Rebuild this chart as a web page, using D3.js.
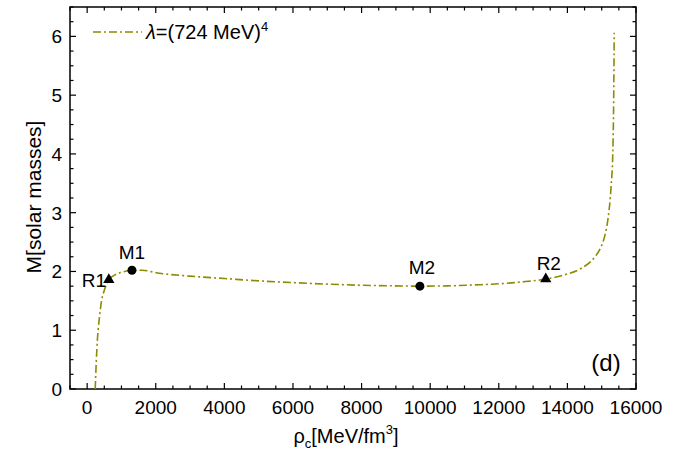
<!DOCTYPE html>
<html><head><meta charset="utf-8">
<script src="https://cdn.jsdelivr.net/npm/d3@7"></script>
<style>body{margin:0;background:#fff}svg{display:block}text{font-family:"Liberation Sans",Arial,sans-serif;fill:#000}</style>
</head><body>
<script>
// Data
const rho = [235, 265, 300, 320, 370, 420, 500, 583, 632, 750, 925, 1100, 1306, 1600, 2100, 3000, 4000, 5000, 6000, 7000, 8000, 9000, 9700, 10500, 11464, 12000, 12635, 13370, 13900, 14395, 14776, 14981, 15100, 15177, 15273, 15323, 15352, 15365];
const mass = [0, 0.45, 0.85, 1.0, 1.28, 1.5, 1.68, 1.80, 1.86, 1.92, 1.97, 2.0, 2.02, 2.02, 1.97, 1.92, 1.88, 1.84, 1.81, 1.785, 1.765, 1.755, 1.75, 1.755, 1.775, 1.79, 1.82, 1.87, 1.94, 2.05, 2.23, 2.42, 2.63, 2.87, 3.44, 4.0, 5.1, 6.06];
const markerNames = ["R1", "M1", "M2", "R2"];
const markerRho = [632, 1306, 9700, 13370];
const markerMass = [1.86, 2.02, 1.75, 1.87];
const markerShape = ["triangle", "circle", "circle", "triangle"];
const xTicks = [0, 2000, 4000, 6000, 8000, 10000, 12000, 14000, 16000];
const yTicks = [0, 1, 2, 3, 4, 5, 6];
const legendLabel = "724 MeV";
const panelLabel = "(d)";

const W = 685, H = 459;
const L = 70, R = 636, T = 7, B = 389;
const color = "#8c8c00";

const svg = d3.select("body").append("svg").attr("width", W).attr("height", H);
const x = d3.scaleLinear().domain([-500, 16000]).range([L, R]);
const y = d3.scaleLinear().domain([0, 6.5]).range([B, T]);

// frame
svg.append("rect").attr("x", L).attr("y", T).attr("width", R - L).attr("height", B - T)
  .attr("fill", "none").attr("stroke", "#000").attr("stroke-width", 1.5);

const xMinor = d3.range(-500, 16001, 500);
const yMinor = d3.range(0, 6.51, 0.25);
const tk = svg.append("g").attr("stroke", "#000").attr("stroke-width", 1.2);
xMinor.forEach(v => {
  const major = Math.abs(v % 2000) < 1e-6;
  const len = major ? 6 : 3.5;
  tk.append("line").attr("x1", x(v)).attr("x2", x(v)).attr("y1", B).attr("y2", B - len);
  tk.append("line").attr("x1", x(v)).attr("x2", x(v)).attr("y1", T).attr("y2", T + len);
});
yMinor.forEach(v => {
  const major = Math.abs(v - Math.round(v)) < 1e-6;
  const len = major ? 6 : 3.5;
  tk.append("line").attr("y1", y(v)).attr("y2", y(v)).attr("x1", L).attr("x2", L + len);
  tk.append("line").attr("y1", y(v)).attr("y2", y(v)).attr("x1", R).attr("x2", R - len);
});

// tick labels
svg.append("g").selectAll("text").data(xTicks).join("text")
  .attr("x", d => x(d)).attr("y", 414).attr("text-anchor", "middle")
  .attr("font-size", 19).text(d => d);
svg.append("g").selectAll("text").data(yTicks).join("text")
  .attr("x", 62).attr("y", d => y(d) + 7).attr("text-anchor", "end")
  .attr("font-size", 19).text(d => d);

// axis titles
svg.append("text").attr("transform", `translate(41,197) rotate(-90)`)
  .attr("text-anchor", "middle").attr("font-size", 21).text("M[solar masses]");
const xt = svg.append("text").attr("x", 346).attr("y", 443).attr("text-anchor", "middle").attr("font-size", 20);
xt.append("tspan").text("ρ");
xt.append("tspan").attr("font-size", 13).attr("dy", 5).text("c");
xt.append("tspan").attr("dy", -5).text("[MeV/fm");
xt.append("tspan").attr("font-size", 13).attr("dy", -9).text("3");
xt.append("tspan").attr("dy", 9).text("]");

// curve
const pts = rho.map((r, i) => [r, mass[i]]);
svg.append("path").datum(pts)
  .attr("d", d3.line().x(d => x(d[0])).y(d => y(d[1])).curve(d3.curveMonotoneX))
  .attr("fill", "none").attr("stroke", color).attr("stroke-width", 1.6)
  .attr("stroke-dasharray", "8,3,2,3");

// markers
markerNames.forEach((n, i) => {
  const cx = x(markerRho[i]), cy = y(markerMass[i]);
  if (markerShape[i] === "circle") {
    svg.append("circle").attr("cx", cx).attr("cy", cy).attr("r", 4.5).attr("fill", "#000");
  } else {
    svg.append("path").attr("d", d3.symbol(d3.symbolTriangle, 55)()).attr("transform", `translate(${cx},${cy})`).attr("fill", "#000");
  }
});
const lblPos = [[-15, 7, "middle"], [0, -11, "middle"], [2, -12, "middle"], [3, -9, "middle"]];
markerNames.forEach((n, i) => {
  svg.append("text").attr("x", x(markerRho[i]) + lblPos[i][0]).attr("y", y(markerMass[i]) + lblPos[i][1])
    .attr("text-anchor", lblPos[i][2]).attr("font-size", 19).text(n);
});

// legend
svg.append("line").attr("x1", 93).attr("x2", 142).attr("y1", 32).attr("y2", 32)
  .attr("stroke", color).attr("stroke-width", 1.6).attr("stroke-dasharray", "8,3,2,3");
const lg = svg.append("text").attr("x", 146).attr("y", 39).attr("font-size", 20);
lg.append("tspan").attr("font-style", "italic").text("λ");
lg.append("tspan").text("=(" + legendLabel + ")");
lg.append("tspan").attr("font-size", 13).attr("dy", -8).text("4");

svg.append("text").attr("x", 606).attr("y", 371).attr("text-anchor", "middle").attr("font-size", 24).text(panelLabel);
</script>
</body></html>
